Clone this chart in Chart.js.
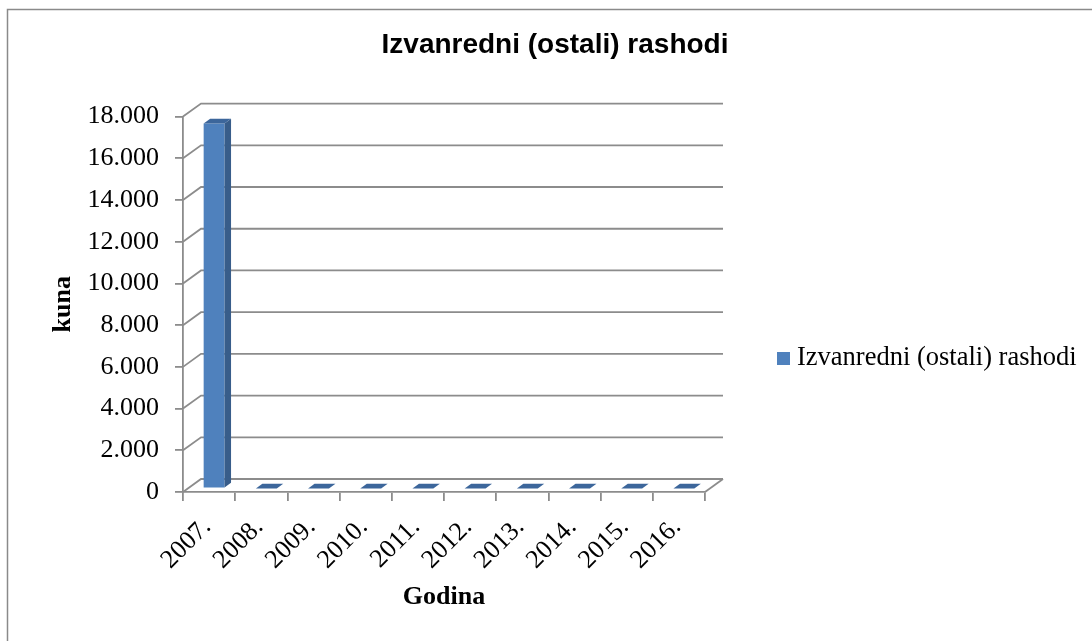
<!DOCTYPE html>
<html>
<head>
<meta charset="utf-8">
<script src="https://cdn.jsdelivr.net/npm/chart.js@4.4.0/dist/chart.umd.min.js"></script>
<style>
  html, body { margin: 0; padding: 0; background: #fff; }
  #wrap { width: 1092px; height: 641px; position: relative; }
</style>
</head>
<body>
<div id="wrap"><canvas id="rashodiChart"></canvas></div>
<script>
// data
const categories = ['2007.', '2008.', '2009.', '2010.', '2011.', '2012.', '2013.', '2014.', '2015.', '2016.'];
const rashodi = [17500, 0, 0, 0, 0, 0, 0, 0, 0, 0];
const yMin = 0;
const yMax = 18000;
const yStep = 2000;

const gridColor = '#8c8c8c';
const serif = 'Liberation Serif, Times New Roman, serif';
const wallDepth = { dx: 18, dy: -13 };   // back wall offset
const barShift = { dx: 5, dy: -3.5 };    // bar sits a bit behind the front plane
const barDepth = { dx: 6.5, dy: -4.8 };

function formatKuna(v) {
    return String(v).replace(/\B(?=(\d{3})+(?!\d))/g, '.');
}

// frame, 3d walls, bar side/top faces and the legend on the right
const pseudo3d = {
    id: 'pseudo3d',
    beforeDraw(chart) {
        const ctx = chart.ctx;
        ctx.save();
        ctx.strokeStyle = '#8a8a8a';
        ctx.lineWidth = 1.5;
        ctx.strokeRect(7.5, 9.5, 1200, 800);
        ctx.restore();
    },
    beforeDatasetsDraw(chart) {
        const ctx = chart.ctx;
        const a = chart.chartArea;
        const y = chart.scales.y;
        ctx.save();
        ctx.strokeStyle = gridColor;
        ctx.lineWidth = 1.8;
        y.ticks.forEach(t => {
            const py = y.getPixelForValue(t.value);
            ctx.beginPath();
            ctx.moveTo(a.left, py);
            ctx.lineTo(a.left + wallDepth.dx, py + wallDepth.dy);
            ctx.lineTo(a.right + wallDepth.dx, py + wallDepth.dy);
            ctx.stroke();
        });
        ctx.beginPath();
        ctx.moveTo(a.right, a.bottom);
        ctx.lineTo(a.right + wallDepth.dx, a.bottom + wallDepth.dy);
        ctx.stroke();
        ctx.restore();

        ctx.save();
        ctx.translate(barShift.dx, barShift.dy);
    },
    afterDatasetsDraw(chart) {
        const ctx = chart.ctx;
        chart.getDatasetMeta(0).data.forEach(bar => {
            const p = bar.getProps(['x', 'y', 'base', 'width'], true);
            const l = p.x - p.width / 2, r = p.x + p.width / 2;
            const top = Math.min(p.y, p.base), bottom = Math.max(p.y, p.base);
            ctx.fillStyle = '#385D8A';
            ctx.beginPath();
            ctx.moveTo(r, top);
            ctx.lineTo(r + barDepth.dx, top + barDepth.dy);
            ctx.lineTo(r + barDepth.dx, bottom + barDepth.dy);
            ctx.lineTo(r, bottom);
            ctx.closePath();
            ctx.fill();
            ctx.fillStyle = '#3C669B';
            ctx.beginPath();
            ctx.moveTo(l, top);
            ctx.lineTo(r, top);
            ctx.lineTo(r + barDepth.dx, top + barDepth.dy);
            ctx.lineTo(l + barDepth.dx, top + barDepth.dy);
            ctx.closePath();
            ctx.fill();
        });
        ctx.restore();
    },
    afterDraw(chart) {
        // legend: the built-in one is capped at a quarter of the width
        const ctx = chart.ctx;
        const ds = chart.data.datasets[0];
        const bx = 777, cy = 358.5;
        ctx.save();
        ctx.fillStyle = ds.backgroundColor;
        ctx.fillRect(bx, cy - 6.5, 13, 13);
        ctx.fillStyle = '#000';
        ctx.font = '26.5px ' + serif;
        ctx.textBaseline = 'middle';
        ctx.fillText(ds.label, bx + 20, cy);
        ctx.restore();
    }
};

new Chart(document.getElementById('rashodiChart'), {
    type: 'bar',
    data: {
        labels: categories,
        datasets: [{
            label: 'Izvanredni (ostali) rashodi',
            data: rashodi,
            backgroundColor: '#4F81BD',
            borderWidth: 0,
            categoryPercentage: 1,
            barPercentage: 0.4,
            clip: false
        }]
    },
    options: {
        responsive: true,
        maintainAspectRatio: false,
        animation: false,
        layout: {
            padding: { left: 44, right: 26, top: 0, bottom: 20 }
        },
        plugins: {
            title: {
                display: true,
                text: 'Izvanredni (ostali) rashodi',
                color: '#000',
                font: { family: 'Liberation Sans, Arial, sans-serif', size: 28, weight: 'bold' },
                padding: { top: 28, bottom: 55 }
            },
            legend: { display: false },
            tooltip: { enabled: false }
        },
        scales: {
            x: {
                afterFit(scale) { scale.height = 129; },
                grid: {
                    offset: true,
                    drawOnChartArea: false,
                    color: gridColor,
                    lineWidth: 1.8,
                    tickLength: 9
                },
                border: { color: gridColor, width: 1.8 },
                ticks: {
                    color: '#000',
                    font: { family: serif, size: 26 },
                    minRotation: 45,
                    maxRotation: 45,
                    padding: 11,
                    labelOffset: -2
                },
                title: {
                    display: true,
                    text: 'Godina',
                    color: '#000',
                    font: { family: serif, size: 26, weight: 'bold' },
                    padding: { top: 0, bottom: 8 }
                }
            },
            y: {
                min: yMin,
                max: yMax,
                afterFit(scale) { scale.width = 139; },
                grid: {
                    drawOnChartArea: false,
                    color: gridColor,
                    lineWidth: 1.8,
                    tickLength: 8
                },
                border: { color: gridColor, width: 1.8 },
                ticks: {
                    stepSize: yStep,
                    color: '#000',
                    padding: 16,
                    font: { family: serif, size: 26 },
                    callback: v => formatKuna(v)
                },
                title: {
                    display: true,
                    text: 'kuna',
                    color: '#000',
                    font: { family: serif, size: 26, weight: 'bold' }
                }
            },
            // empty axis that keeps the room for the legend
            legendSpace: {
                position: 'right',
                display: true,
                grid: { display: false },
                border: { display: false },
                ticks: { display: false },
                afterFit(scale) { scale.width = 361; }
            }
        }
    },
    plugins: [pseudo3d]
});
</script>
</body>
</html>
